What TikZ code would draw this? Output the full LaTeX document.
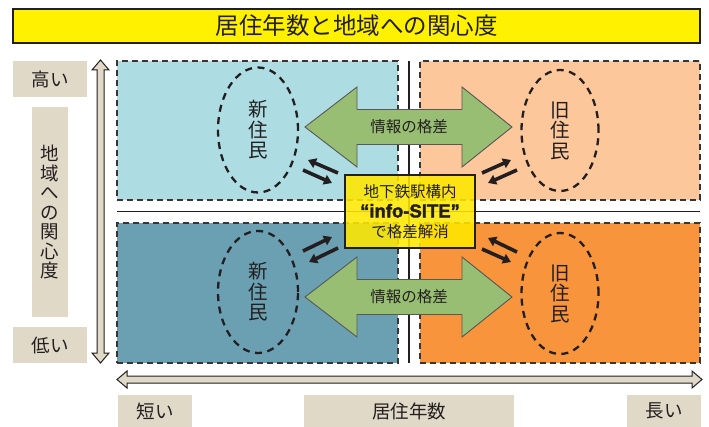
\documentclass[tikz,border=0pt]{standalone}
\usepackage{fontspec}
\setmainfont{Noto Sans CJK JP}
\newfontfamily\infofont{Liberation Sans}[BoldFeatures={FakeBold=2}]
\usetikzlibrary{arrows.meta,shapes.geometric}
\definecolor{qTL}{RGB}{174,220,227}
\definecolor{qTR}{RGB}{252,199,155}
\definecolor{qBL}{RGB}{106,160,178}
\definecolor{qBR}{RGB}{247,148,60}
\definecolor{garrow}{RGB}{152,190,116}
\definecolor{beige}{RGB}{224,217,200}
\definecolor{titleyellow}{RGB}{255,241,0}
\definecolor{boxyellow}{RGB}{255,232,0}
\definecolor{ink}{RGB}{35,31,32}
\newcommand{\fsz}[2]{\fontsize{#1}{#2}\selectfont}
\tikzset{
  quadbox/.style={draw=ink!90, line width=1.3pt, dash pattern=on 6pt off 4pt, inner sep=0pt},
  resident/.style={ellipse, draw=ink, line width=2.3pt, dash pattern=on 7pt off 5.5pt,
    align=center, font=\fsz{19.5}{20.5}, text=ink, inner sep=0pt},
  lbl/.style={fill=beige, inner sep=0pt, font=\fsz{18.5}{20}, text=ink},
  garr/.style={fill=garrow, draw=ink!75, line width=0.9pt},
  axisarrow/.style={fill=beige, draw=ink, line width=1pt},
  sarr/.style={line width=3.6pt, draw=ink, -{Triangle[length=8pt,width=10pt]}},
  divider/.style={draw=ink, line width=1.6pt},
}
\begin{document}
\begin{tikzpicture}[x=1pt,y=-1pt]
\useasboundingbox (0,0) rectangle (709,427);

% title
\node[draw=ink, line width=1.5pt, fill=titleyellow, minimum width=687pt, minimum height=34pt,
  inner sep=0pt, font=\fsz{23.5}{24}, text=ink] (title) at (356.5,26) {居住年数と地域への関心度};

% quadrants
\node[quadbox, fill=qTL, minimum width=281pt, minimum height=139pt] (qtl) at (257.5,130.5) {};
\node[quadbox, fill=qTR, minimum width=280pt, minimum height=139pt] (qtr) at (560,130.5) {};
\node[quadbox, fill=qBL, minimum width=281pt, minimum height=140pt] (qbl) at (257.5,293) {};
\node[quadbox, fill=qBR, minimum width=280pt, minimum height=140pt] (qbr) at (560,293) {};

% dividers
\coordinate (hl) at (117,211.5);
\coordinate (hr) at (700,211.5);
\coordinate (vt) at (409,61);
\coordinate (vb) at (409,363);
\draw[divider] (hl) -- (hr);
\draw[divider] (vt) -- (vb);

% axis arrows
\draw[axisarrow] (100.5,60) -- (109,70) -- (104,70) -- (104,353) -- (109,353) -- (100.5,363)
  -- (92,353) -- (97,353) -- (97,70) -- (92,70) -- cycle;
\draw[axisarrow] (117,379.5) -- (127,371) -- (127,376) -- (692,376) -- (692,371) -- (702,379.5)
  -- (692,388) -- (692,383) -- (127,383) -- (127,388) -- cycle;

% labels
\node[lbl, minimum width=74pt, minimum height=36pt] (high) at (50,79) {高い};
\node[lbl, minimum width=36pt, minimum height=210pt, align=center, font=\fsz{18.5}{19.5}] (interest) at (50,212)
  {地\\域\\へ\\の\\関\\心\\度};
\node[lbl, minimum width=74pt, minimum height=36pt] (low) at (50,345) {低い};
\node[lbl, minimum width=74pt, minimum height=32pt] (short) at (155,411) {短い};
\node[lbl, minimum width=210pt, minimum height=32pt] (years) at (409,411) {居住年数};
\node[lbl, minimum width=74pt, minimum height=32pt] (long) at (664,411) {長い};

% green double arrows
\draw[garr] (305,127) -- (357,87) -- (357,109.5) -- (462,109.5) -- (462,87) -- (512,127)
  -- (462,167) -- (462,144.5) -- (357,144.5) -- (357,167) -- cycle;
\node[font=\fsz{15.5}{16}, text=ink] (gapT) at (409,127) {情報の格差};
\draw[garr] (305,297) -- (357,257) -- (357,279.5) -- (462,279.5) -- (462,257) -- (512,297)
  -- (462,337) -- (462,314.5) -- (357,314.5) -- (357,337) -- cycle;
\node[font=\fsz{15.5}{16}, text=ink] (gapB) at (409,297) {情報の格差};

% residents
\node[resident, minimum width=80pt, minimum height=125pt] (newT) at (258,130) {新\\住\\民};
\node[resident, minimum width=77pt, minimum height=121pt] (oldT) at (560,130.5) {旧\\住\\民};
\node[resident, minimum width=80pt, minimum height=122pt] (newB) at (258,292) {新\\住\\民};
\node[resident, minimum width=77pt, minimum height=121pt] (oldB) at (560,293.5) {旧\\住\\民};

% small arrows
\coordinate (a1s) at (338,173); \coordinate (a1e) at (308,160);
\coordinate (a2s) at (303,170); \coordinate (a2e) at (332,183);
\coordinate (b1s) at (303,251); \coordinate (b1e) at (332,237);
\coordinate (b2s) at (338,248); \coordinate (b2e) at (309,262);
\coordinate (c1s) at (482,173); \coordinate (c1e) at (511,160);
\coordinate (c2s) at (517,170); \coordinate (c2e) at (488,183);
\coordinate (d1s) at (517,252); \coordinate (d1e) at (488,238);
\coordinate (d2s) at (482,249); \coordinate (d2e) at (511,262);
\draw[sarr] (a1s) -- (a1e);
\draw[sarr] (a2s) -- (a2e);
\draw[sarr] (b1s) -- (b1e);
\draw[sarr] (b2s) -- (b2e);
\draw[sarr] (c1s) -- (c1e);
\draw[sarr] (c2s) -- (c2e);
\draw[sarr] (d1s) -- (d1e);
\draw[sarr] (d2s) -- (d2e);

% center box
\node[draw=ink, line width=1.5pt, fill=boxyellow, fill opacity=0.88, text opacity=1,
  minimum width=130pt, minimum height=73pt, inner sep=0pt, align=center,
  font=\fsz{15.5}{20}, text=ink] (site) at (410,211.5)
  {地下鉄駅構内\\{\infofont\bfseries\fsz{18.5}{20}“info-SITE”}\\で格差解消};
\end{tikzpicture}
\end{document}
